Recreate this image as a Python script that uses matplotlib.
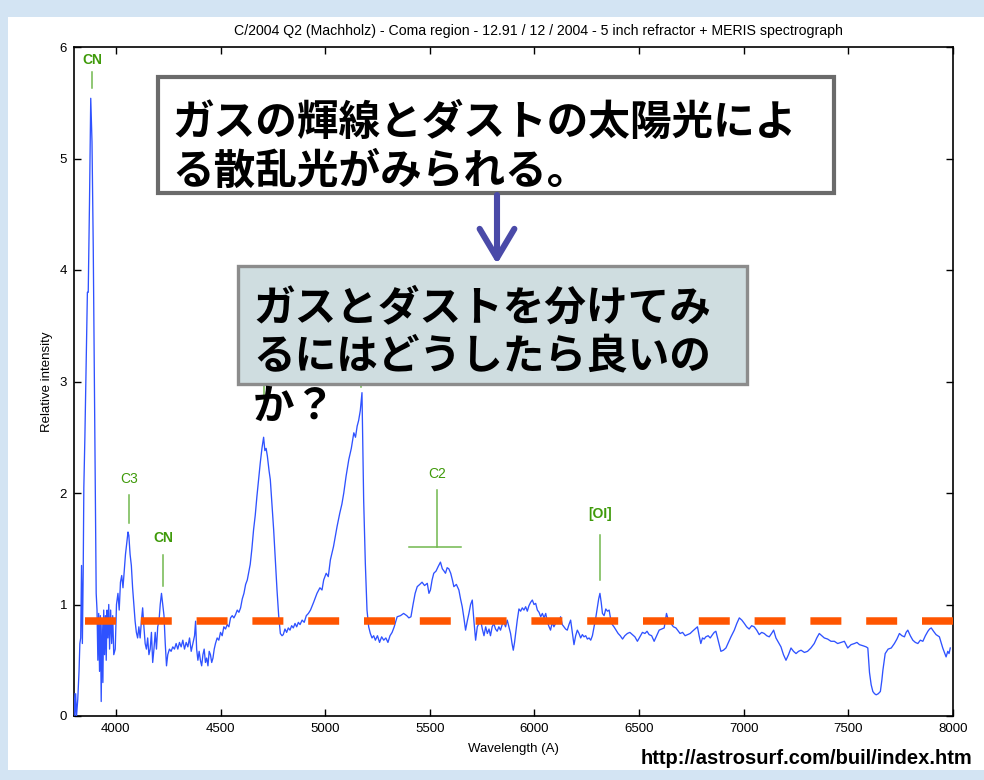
import matplotlib
matplotlib.use("Agg")
import matplotlib.pyplot as plt
from matplotlib.patches import Rectangle, FancyArrowPatch, ArrowStyle

# ---- spectrum data: wavelength (Angstrom) and relative intensity ----
wavelength = [
    3800, 3804, 3808, 3812, 3818, 3824, 3828, 3832, 3836, 3840, 3844, 3847, 3852, 3858,
    3864, 3868, 3874, 3880, 3886, 3892, 3897, 3902, 3906, 3910, 3914, 3918, 3922, 3926,
    3930, 3934, 3938, 3942, 3946, 3950, 3954, 3958, 3962, 3966, 3970, 3975, 3980, 3985,
    3990, 3997, 4003, 4010, 4016, 4022, 4028, 4034, 4040, 4046, 4052, 4058, 4062, 4068,
    4074, 4080, 4086, 4092, 4098, 4104, 4110, 4116, 4122, 4128, 4134, 4140, 4146, 4152,
    4158, 4164, 4170, 4176, 4182, 4188, 4194, 4200, 4206, 4212, 4218, 4224, 4230, 4236,
    4242, 4248, 4256, 4264, 4272, 4280, 4288, 4296, 4304, 4312, 4320, 4328, 4336, 4344,
    4352, 4360, 4368, 4376, 4381, 4386, 4392, 4398, 4404, 4410, 4416, 4422, 4428, 4434,
    4440, 4446, 4452, 4458, 4464, 4470, 4476, 4484, 4492, 4500, 4508, 4516, 4524, 4532,
    4540, 4548, 4556, 4564, 4572, 4580, 4588, 4596, 4604, 4612, 4620, 4628, 4636, 4642,
    4650, 4658, 4666, 4674, 4682, 4690, 4698, 4706, 4712, 4718, 4724, 4732, 4738, 4746,
    4754, 4762, 4770, 4778, 4786, 4794, 4800, 4808, 4816, 4824, 4832, 4840, 4848, 4856,
    4864, 4872, 4880, 4890, 4900, 4910, 4920, 4930, 4945, 4961, 4975, 4985, 4993, 5005,
    5015, 5025, 5040, 5057, 5070, 5080, 5089, 5100, 5113, 5125, 5137, 5145, 5153, 5160,
    5168, 5176, 5184, 5192, 5200, 5208, 5216, 5224, 5232, 5240, 5250, 5260, 5270, 5280,
    5290, 5300, 5310, 5320, 5330, 5344, 5360, 5375, 5390, 5400, 5410, 5420, 5430, 5440,
    5452, 5463, 5475, 5488, 5496, 5503, 5511, 5519, 5530, 5540, 5551, 5560, 5568, 5575,
    5583, 5591, 5600, 5608, 5615, 5627, 5639, 5647, 5655, 5663, 5671, 5679, 5687, 5695,
    5703, 5711, 5719, 5727, 5735, 5743, 5751, 5759, 5767, 5775, 5783, 5790, 5798, 5806,
    5814, 5822, 5830, 5838, 5846, 5854, 5862, 5870, 5878, 5886, 5893, 5899, 5905, 5910,
    5918, 5926, 5934, 5942, 5950, 5958, 5966, 5974, 5982, 5990, 5998, 6006, 6014, 6022,
    6030, 6038, 6046, 6054, 6062, 6070, 6077, 6085, 6093, 6101, 6109, 6117, 6125, 6133,
    6141, 6149, 6157, 6165, 6173, 6181, 6189, 6197, 6205, 6213, 6221, 6229, 6237, 6245,
    6253, 6261, 6269, 6277, 6285, 6293, 6301, 6307, 6313, 6319, 6325, 6333, 6341, 6349,
    6357, 6365, 6372, 6380, 6390, 6400, 6410, 6421, 6432, 6444, 6456, 6468, 6480, 6492,
    6504, 6516, 6528, 6538, 6548, 6560, 6572, 6584, 6596, 6608, 6620, 6626, 6631, 6640,
    6652, 6664, 6676, 6684, 6696, 6708, 6720, 6732, 6744, 6755, 6767, 6779, 6787, 6795,
    6803, 6811, 6819, 6830, 6840, 6851, 6859, 6867, 6875, 6883, 6891, 6903, 6915, 6927,
    6939, 6947, 6955, 6967, 6979, 6991, 7003, 7014, 7026, 7038, 7050, 7062, 7074, 7086,
    7098, 7110, 7122, 7133, 7143, 7154, 7166, 7178, 7190, 7202, 7214, 7226, 7238, 7250,
    7262, 7274, 7290, 7305, 7321, 7337, 7349, 7361, 7373, 7385, 7401, 7417, 7433, 7449,
    7465, 7481, 7489, 7497, 7513, 7529, 7541, 7553, 7570, 7585, 7593, 7601, 7609, 7617,
    7625, 7633, 7643, 7653, 7660, 7665, 7676, 7690, 7705, 7720, 7732, 7744, 7756, 7768,
    7776, 7784, 7796, 7808, 7820, 7832, 7844, 7856, 7868, 7880, 7888, 7896, 7907, 7919,
    7935, 7943, 7951, 7959, 7967, 7975, 7981, 7987,
]
intensity = [
    0.20, 0.00, 0.20, 0.00, 0.15, 0.40, 0.65, 0.70, 1.35, 0.65, 1.30, 2.05, 2.50, 3.15,
    3.80, 3.80, 4.60, 5.54, 5.15, 4.20, 3.10, 2.10, 1.10, 0.95, 0.50, 0.92, 0.40, 0.90,
    0.13, 0.85, 0.30, 0.95, 0.55, 0.90, 0.50, 0.95, 0.70, 1.00, 0.60, 0.95, 0.65, 0.90,
    0.55, 0.60, 1.00, 1.10, 0.95, 1.20, 1.26, 1.15, 1.30, 1.45, 1.55, 1.65, 1.62, 1.45,
    1.35, 1.15, 1.00, 0.85, 0.75, 0.70, 0.80, 0.70, 0.85, 0.97, 0.80, 0.65, 0.60, 0.70,
    0.55, 0.60, 0.75, 0.48, 0.60, 0.75, 0.60, 0.80, 0.85, 1.00, 1.10, 1.00, 0.90, 0.65,
    0.45, 0.55, 0.60, 0.58, 0.62, 0.60, 0.65, 0.60, 0.66, 0.62, 0.68, 0.60, 0.66, 0.62,
    0.70, 0.58, 0.65, 0.72, 0.85, 0.60, 0.50, 0.58, 0.50, 0.45, 0.55, 0.60, 0.48, 0.52,
    0.45, 0.58, 0.55, 0.48, 0.52, 0.60, 0.65, 0.70, 0.68, 0.75, 0.72, 0.80, 0.78, 0.82,
    0.80, 0.88, 0.90, 0.88, 0.91, 0.95, 0.93, 0.97, 1.05, 1.10, 1.18, 1.22, 1.30, 1.36,
    1.50, 1.67, 1.80, 1.97, 2.12, 2.27, 2.40, 2.50, 2.38, 2.40, 2.33, 2.20, 2.12, 1.90,
    1.67, 1.40, 1.13, 0.90, 0.74, 0.72, 0.73, 0.78, 0.75, 0.79, 0.77, 0.81, 0.79, 0.83,
    0.80, 0.84, 0.82, 0.86, 0.84, 0.90, 0.92, 0.95, 1.02, 1.10, 1.15, 1.13, 1.22, 1.28,
    1.25, 1.40, 1.52, 1.70, 1.82, 1.90, 2.00, 2.15, 2.30, 2.40, 2.54, 2.50, 2.60, 2.65,
    2.74, 2.90, 1.94, 1.37, 0.95, 0.80, 0.74, 0.70, 0.72, 0.68, 0.72, 0.66, 0.71, 0.68,
    0.70, 0.66, 0.72, 0.75, 0.80, 0.89, 0.90, 0.92, 0.90, 0.88, 0.89, 1.00, 1.10, 1.16,
    1.18, 1.20, 1.17, 1.19, 1.10, 1.13, 1.22, 1.28, 1.30, 1.34, 1.38, 1.32, 1.30, 1.28,
    1.33, 1.32, 1.28, 1.22, 1.16, 1.18, 1.13, 1.05, 0.98, 0.88, 0.77, 0.85, 0.92, 1.00,
    1.04, 0.85, 0.68, 0.80, 0.83, 0.86, 0.78, 0.72, 0.80, 0.74, 0.78, 0.72, 0.80, 0.83,
    0.78, 0.76, 0.80, 0.77, 0.82, 0.84, 0.80, 0.86, 0.80, 0.74, 0.65, 0.59, 0.66, 0.74,
    0.86, 0.96, 0.94, 0.97, 0.95, 0.98, 0.94, 0.99, 1.02, 1.04, 1.00, 1.01, 0.95, 0.93,
    0.89, 0.92, 0.88, 0.92, 0.84, 0.80, 0.77, 0.84, 0.80, 0.83, 0.86, 0.84, 0.89, 0.82,
    0.80, 0.78, 0.77, 0.82, 0.86, 0.75, 0.64, 0.72, 0.77, 0.74, 0.70, 0.73, 0.71, 0.72,
    0.69, 0.70, 0.68, 0.72, 0.80, 0.88, 0.98, 1.05, 1.10, 1.02, 0.92, 0.90, 0.96, 0.94,
    0.95, 0.86, 0.82, 0.80, 0.77, 0.74, 0.72, 0.69, 0.72, 0.74, 0.75, 0.73, 0.71, 0.67,
    0.71, 0.75, 0.74, 0.76, 0.73, 0.72, 0.67, 0.72, 0.77, 0.78, 0.79, 0.86, 0.92, 0.86,
    0.83, 0.80, 0.79, 0.77, 0.74, 0.75, 0.72, 0.73, 0.74, 0.76, 0.78, 0.80, 0.72, 0.65,
    0.70, 0.69, 0.71, 0.72, 0.70, 0.73, 0.75, 0.76, 0.70, 0.64, 0.58, 0.59, 0.61, 0.66,
    0.71, 0.74, 0.77, 0.83, 0.88, 0.86, 0.83, 0.80, 0.78, 0.81, 0.80, 0.77, 0.73, 0.75,
    0.74, 0.72, 0.71, 0.74, 0.77, 0.70, 0.66, 0.62, 0.55, 0.50, 0.55, 0.61, 0.58, 0.56,
    0.58, 0.59, 0.57, 0.58, 0.61, 0.65, 0.70, 0.74, 0.72, 0.70, 0.69, 0.67, 0.67, 0.65,
    0.66, 0.67, 0.64, 0.61, 0.64, 0.65, 0.66, 0.64, 0.63, 0.62, 0.61, 0.39, 0.28, 0.22,
    0.20, 0.19, 0.20, 0.22, 0.32, 0.41, 0.56, 0.60, 0.61, 0.65, 0.69, 0.74, 0.72, 0.71,
    0.75, 0.77, 0.72, 0.68, 0.66, 0.65, 0.68, 0.67, 0.72, 0.76, 0.78, 0.79, 0.76, 0.73,
    0.71, 0.66, 0.61, 0.57, 0.53, 0.58, 0.56, 0.61,
]

# continuum level drawn as the dashed reference line
continuum_level = 0.85
continuum_start = 3852

# emission line identifications: label, wavelength, label height, tick top, tick bottom
line_labels = ["CN", "C3", "CN", "C2", "[OI]"]
line_wavelengths = [3886, 4063, 4226, 5535, 6312]
label_heights = [5.88, 2.13, 1.60, 2.17, 1.81]
tick_tops = [5.78, 1.98, 1.44, 2.03, 1.62]
tick_bottoms = [5.63, 1.73, 1.17, 1.52, 1.22]
label_bold = [True, False, True, False, True]
c2_band = (5403, 5647)
# identification ticks whose labels sit under the question box
hidden_tick_wavelengths = [4706, 5172]
hidden_tick_tops = [3.30, 3.30]
hidden_tick_bottoms = [2.75, 2.95]

x_ticks = [4000, 4500, 5000, 5500, 6000, 6500, 7000, 7500, 8000]
y_ticks = [0, 1, 2, 3, 4, 5, 6]

title = ("C/2004 Q2 (Machholz) - Coma region - 12.91 / 12 / 2004 - "
         "5 inch refractor + MERIS spectrograph")
note_1 = ["ガスの輝線とダストの太陽光によ", "る散乱光がみられる。"]
note_2 = ["ガスとダストを分けてみ", "るにはどうしたら良いの", "か？"]
source_url = "http://astrosurf.com/buil/index.htm"

W, H = 984, 780
sans = ["Liberation Sans", "DejaVu Sans"]
jp = ["Noto Sans CJK JP", "DejaVu Sans"]
green_text = "#3f9a0a"
green_line = "#72b84e"

fig = plt.figure(figsize=(W / 100, H / 100), dpi=100, facecolor="#d3e4f3")

# white page behind the chart
bg = fig.add_axes([0, 0, 1, 1], zorder=0)
bg.set_xlim(0, W)
bg.set_ylim(H, 0)
bg.axis("off")
bg.add_patch(Rectangle((8, 17), W - 8, 753, facecolor="white", edgecolor="none"))

# ---- spectrum axes ----
ax_l, ax_r, ax_t, ax_b = 74, 953, 47, 716
ax = fig.add_axes([ax_l / W, 1 - ax_b / H, (ax_r - ax_l) / W, (ax_b - ax_t) / H], zorder=1)
ax.set_facecolor("white")
ax.plot(wavelength, intensity, color="#2f52ff", lw=0.95, zorder=3)
ax.hlines(continuum_level, continuum_start, 8000, colors="#ff5500", lw=5.4,
          linestyles=[(0, (4.13, 3.31))], zorder=4)

for lab, wl, ly, t0, t1, b in zip(line_labels, line_wavelengths, label_heights,
                                   tick_tops, tick_bottoms, label_bold):
    ax.text(wl, ly, lab, color=green_text, ha="center", va="center", fontsize=10,
            fontweight="bold" if b else "normal", family=sans)
    ax.plot([wl, wl], [t0, t1], color=green_line, lw=1.1, zorder=2)
ax.plot([c2_band[0], c2_band[1]], [tick_bottoms[3], tick_bottoms[3]], color=green_line, lw=1.1)
for wl, t0, t1 in zip(hidden_tick_wavelengths, hidden_tick_tops, hidden_tick_bottoms):
    ax.plot([wl, wl], [t0, t1], color=green_line, lw=1.1, zorder=2)

ax.set_xlim(3800, 8000)
ax.set_ylim(0, 6)
ax.set_xticks(x_ticks)
ax.set_yticks(y_ticks)
ax.set_xticklabels([str(v) for v in x_ticks], family=sans, fontsize=9.5)
ax.set_yticklabels([str(v) for v in y_ticks], family=sans, fontsize=9.5)
ax.tick_params(direction="in", top=True, right=True, length=5, width=1.0, pad=5, colors="black")
for s in ax.spines.values():
    s.set_linewidth(1.2)
ax.set_xlabel("Wavelength (A)", family=sans, fontsize=9.5, labelpad=6)
ax.set_ylabel("Relative intensity", family=sans, fontsize=9.5, labelpad=5)
ax.set_title(title, family=sans, fontsize=10.2, pad=9, x=0.528)

# ---- annotation layer in pixel coordinates ----
ov = fig.add_axes([0, 0, 1, 1], zorder=5)
ov.set_xlim(0, W)
ov.set_ylim(H, 0)
ov.axis("off")
ov.patch.set_alpha(0)

ov.add_patch(Rectangle((158, 77), 834 - 158, 193 - 77, facecolor="white",
                       edgecolor="#6b6b6b", lw=3.0))
for i, line in enumerate(note_1):
    ov.text(172, 135 + 49 * i, line, family=jp, fontweight="bold", fontsize=30,
            ha="left", va="baseline", color="black")

ov.add_patch(Rectangle((238, 266), 747 - 238, 384 - 266, facecolor="#cfdde0",
                       edgecolor="#8c8c8c", lw=2.4))
for i, line in enumerate(note_2):
    ov.text(253, 320 + 49.5 * i, line, family=jp, fontweight="bold", fontsize=30,
            ha="left", va="baseline", color="black")

arrow = FancyArrowPatch((497, 195), (497, 264),
                        arrowstyle=ArrowStyle("->", head_length=21, head_width=12.5),
                        mutation_scale=1, color="#4a4aa8", lw=4.4,
                        shrinkA=0, shrinkB=0, capstyle="round", joinstyle="round")
ov.add_patch(arrow)

ov.text(972, 764, source_url, family=sans, fontweight="bold",
        fontsize=14.5, ha="right", va="baseline", color="black")

fig.savefig("out.png", dpi=100, facecolor=fig.get_facecolor())
